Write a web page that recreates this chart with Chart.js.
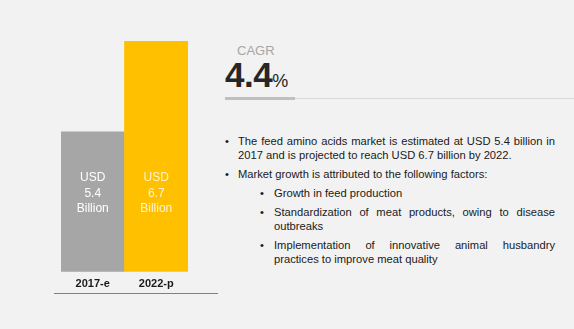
<!DOCTYPE html>
<html lang="en">
<head>
  <meta charset="UTF-8" />
  <title>Feed Amino Acids Market</title>
  <script src="https://cdn.jsdelivr.net/npm/chart.js"></script>
  <style>
    html, body { margin: 0; padding: 0; }
    body { width: 574px; height: 329px; background: #f2f2f2; position: relative; overflow: hidden;
           font-family: "Liberation Sans", Arial, sans-serif; }
    #chartBox { position: absolute; left: 40px; top: 31px; width: 170px; height: 270px; }
    .axisLine { position: absolute; left: 54px; top: 293px; width: 164px; height: 1px; background: #808080; }
    .cagrLabel { position: absolute; left: 237px; top: 43px; font-size: 13px; color: #a6a6a6; }
    .cagrValue { position: absolute; left: 225px; top: 55px; font-size: 35px; font-weight: bold; color: #262626; letter-spacing: -0.5px; }
    .cagrValue span { font-size: 18px; font-weight: normal; }
    .lineThick { position: absolute; left: 225px; top: 97px; width: 70px; height: 3px; background: #bfbfbf; }
    .lineThin { position: absolute; left: 295px; top: 98px; width: 279px; height: 1px; background: #d9d9d9; }
    .notes { position: absolute; left: 225px; top: 134px; width: 330px; font-size: 11.2px; color: #1a1a1a; line-height: 14px; }
    .notes p { margin: 0 0 5px 0; position: relative; text-align: justify; }
    .notes p::before { content: "\2022"; position: absolute; }
    .l1 { padding-left: 13px; }
    .l1::before { left: 0; }
    .l2 { padding-left: 49px; }
    .l2::before { left: 35px; }
  </style>
</head>
<body>
  <div id="chartBox"><canvas id="marketChart"></canvas></div>
  <div class="axisLine"></div>

  <div class="cagrLabel">CAGR</div>
  <div class="cagrValue">4.4<span>%</span></div>
  <div class="lineThick"></div>
  <div class="lineThin"></div>

  <div class="notes">
    <p class="l1">The feed amino acids market is estimated at USD 5.4 billion in 2017 and is projected to reach USD 6.7 billion by 2022.</p>
    <p class="l1">Market growth is attributed to the following factors:</p>
    <p class="l2">Growth in feed production</p>
    <p class="l2">Standardization of meat products, owing to disease outbreaks</p>
    <p class="l2">Implementation of innovative animal husbandry practices to improve meat quality</p>
  </div>

  <script>
    const years = ["2017-e", "2022-p"];
    const marketSize = [5.4, 6.7];
    const barColors = ["#a6a6a6", "#ffc000"];
    const labelColors = ["#ffffff", "#fff3cc"];

    // white "USD x.x Billion" labels inside each bar
    const barText = {
      id: "barText",
      afterDatasetsDraw(chart) {
        const ctx = chart.ctx;
        const meta = chart.getDatasetMeta(0);
        const base = chart.chartArea.bottom;
        ctx.save();
        ctx.font = "12px 'Liberation Sans', Arial, sans-serif";
        ctx.textAlign = "center";
        ctx.textBaseline = "middle";
        meta.data.forEach((bar, i) => {
          ctx.fillStyle = labelColors[i];
          const lines = ["USD", marketSize[i].toFixed(1), "Billion"];
          lines.forEach((t, j) => ctx.fillText(t, bar.x, base - 94 + j * 15.5));
        });
        ctx.restore();
      }
    };

    new Chart(document.getElementById("marketChart"), {
      type: "bar",
      data: {
        labels: years,
        datasets: [{
          data: marketSize,
          backgroundColor: barColors,
          barPercentage: 1,
          categoryPercentage: 1
        }]
      },
      options: {
        responsive: true,
        maintainAspectRatio: false,
        animation: false,
        layout: { padding: { left: 21, right: 22, top: 10, bottom: 4 } },
        plugins: { legend: { display: false }, tooltip: { enabled: false } },
        scales: {
          x: {
            grid: { display: false, drawTicks: false },
            border: { display: false },
            ticks: { color: "#1a1a1a", padding: 6, font: { size: 11, weight: "bold", family: "'Liberation Sans', Arial, sans-serif" } }
          },
          y: { display: false, min: 3.4, max: 6.7 }
        }
      },
      plugins: [barText]
    });
  </script>
</body>
</html>
